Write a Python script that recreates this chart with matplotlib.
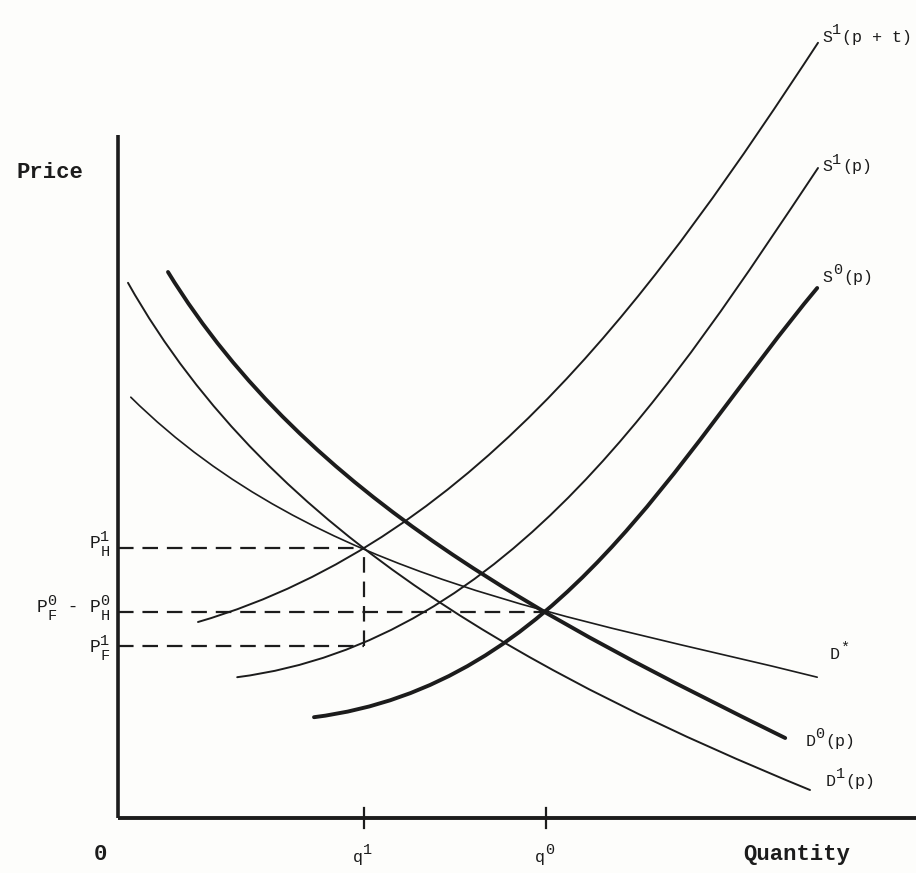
import numpy as np
import matplotlib
matplotlib.use('Agg')
import matplotlib.pyplot as plt
from matplotlib.path import Path
from matplotlib.patches import PathPatch

plt.rcParams['font.family'] = ['Liberation Mono', 'DejaVu Sans Mono']

# equilibrium quantities and prices
q1, q0 = 30.75, 53.5
pH1, pH0, pF1 = 33.75, 25.75, 21.5

# curve points (quantity, price)
s1t_q = [10.0, 30.75, 35.75, 61.5, 87.5]
s1t_p = [24.5, 33.75, 37.0, 61.0, 96.9]
s1_q = [14.9, 30.75, 42.6, 73.75, 87.5]
s1_p = [17.6, 21.5, 28.9, 61.0, 81.25]
s0_q = [24.5, 48.1, 53.5, 75.25, 87.4]
s0_p = [12.6, 21.9, 25.75, 50.6, 66.25]
d0_q = [6.25, 21.5, 35.75, 53.5, 83.4]
d0_p = [68.25, 49.4, 37.0, 25.75, 10.0]
d1_q = [1.25, 21.5, 30.75, 40.4, 48.1, 86.5]
d1_p = [66.9, 41.4, 33.75, 27.0, 21.9, 3.5]
ds_q = [1.6, 21.5, 30.75, 43.0, 53.5, 68.9, 87.4]
ds_p = [52.6, 38.1, 33.75, 28.75, 25.75, 22.25, 17.6]

ink = '#1c1c1c'


def bezier(xs, ys):
    # one cubic bezier through the read points (least squares, ends fixed)
    P = np.column_stack([xs, ys])
    d = np.r_[0, np.cumsum(np.hypot(*np.diff(P, axis=0).T))]
    t = d / d[-1]
    b0 = (1 - t) ** 3
    b1 = 3 * t * (1 - t) ** 2
    b2 = 3 * t ** 2 * (1 - t)
    b3 = t ** 3
    rhs = P - np.outer(b0, P[0]) - np.outer(b3, P[-1])
    A = np.column_stack([b1, b2])
    C = np.linalg.lstsq(A[1:-1], rhs[1:-1], rcond=None)[0]
    return Path([P[0], C[0], C[1], P[-1]],
                [Path.MOVETO, Path.CURVE4, Path.CURVE4, Path.CURVE4])


def label(x, y, base, sup='', sub='', rest='', size=12, ssize=11,
          weight='normal', va='center'):
    # typewriter style label: base letter, raised/lowered marks, then the rest
    t = ax.text(x, y, base, fontsize=size, color=ink, ha='left', va=va,
                fontweight=weight)
    last = t
    if sup:
        last = ax.annotate(sup, xy=(1, 0), xycoords=t, xytext=(0.3, 5.5),
                           textcoords='offset points', fontsize=ssize,
                           color=ink, va='bottom', ha='left')
    if sub:
        last = ax.annotate(sub, xy=(1, 0), xycoords=t, xytext=(0.3, -5),
                           textcoords='offset points', fontsize=ssize,
                           color=ink, va='bottom', ha='left')
    if rest:
        ax.annotate(rest, xy=(1, 0), xycoords=(last, t), xytext=(0.5, 0),
                    textcoords='offset points', fontsize=size, color=ink,
                    va='bottom', ha='left', fontweight=weight)
    return t


fig = plt.figure(figsize=(9.16, 8.73), dpi=100, facecolor='#fdfdfb')
ax = fig.add_axes([0, 0, 1, 1])
ax.set_xlim(-14.75, 99.75)
ax.set_ylim(-6.875, 102.25)
ax.axis('off')

# axes
ax.plot([0, 0], [0, 85.4], color=ink, lw=2.6, solid_capstyle='butt')
ax.plot([0, 99.75], [0, 0], color=ink, lw=2.8, solid_capstyle='butt')
for q in (q1, q0):
    ax.plot([q, q], [-1.3, 1.3], color=ink, lw=1.6)

# dashed guides
dash = dict(color=ink, lw=1.6, linestyle=(0, (7, 4)))
ax.plot([0, q1], [pH1, pH1], **dash)
ax.plot([0, q0], [pH0, pH0], **dash)
ax.plot([0, q1], [pF1, pF1], **dash)
ax.plot([q1, q1], [pF1, pH1], **dash)

curves = [
    (s1t_q, s1t_p, 1.4),
    (s1_q, s1_p, 1.4),
    (s0_q, s0_p, 2.8),
    (d0_q, d0_p, 2.8),
    (d1_q, d1_p, 1.4),
    (ds_q, ds_p, 1.2),
]
for xs, ys, lw in curves:
    ax.add_patch(PathPatch(bezier(xs, ys), fill=False, edgecolor=ink,
                           lw=lw, capstyle='round'))

# curve labels
label(88.0, 97.6, 'S', sup='1', rest='(p + t)')
label(88.0, 81.4, 'S', sup='1', rest='(p)')
label(88.1, 67.6, 'S', sup='0', rest='(p)')
label(89.0, 20.4, 'D', sup='*')
label(85.9, 9.6, 'D', sup='0', rest='(p)')
label(88.4, 4.6, 'D', sup='1', rest='(p)')

# price labels on the vertical axis
label(-3.6, pH1 + 0.6, 'P', sup='1', sub='H', size=13)
p0 = label(-10.2, pH0 + 0.6, 'P', sup='0', sub='F', rest=' -', size=13)
label(-3.6, pH0 + 0.6, 'P', sup='0', sub='H', size=13)
label(-3.6, pF1 - 0.2, 'P', sup='1', sub='F', size=13)

# axis labels
ax.text(-12.7, 80.75, 'Price', color=ink, fontsize=16, fontweight='bold',
        ha='left', va='center')
ax.text(84.9, -4.6, 'Quantity', color=ink, fontsize=16, fontweight='bold',
        ha='center', va='center')
ax.text(-2.25, -4.6, '0', color=ink, fontsize=16, fontweight='bold',
        ha='center', va='center')
label(q1 - 1.4, -4.9, 'q', sup='1', size=12)
label(q0 - 1.4, -4.9, 'q', sup='0', size=12)

fig.savefig('out.png', dpi=100, facecolor=fig.get_facecolor())
